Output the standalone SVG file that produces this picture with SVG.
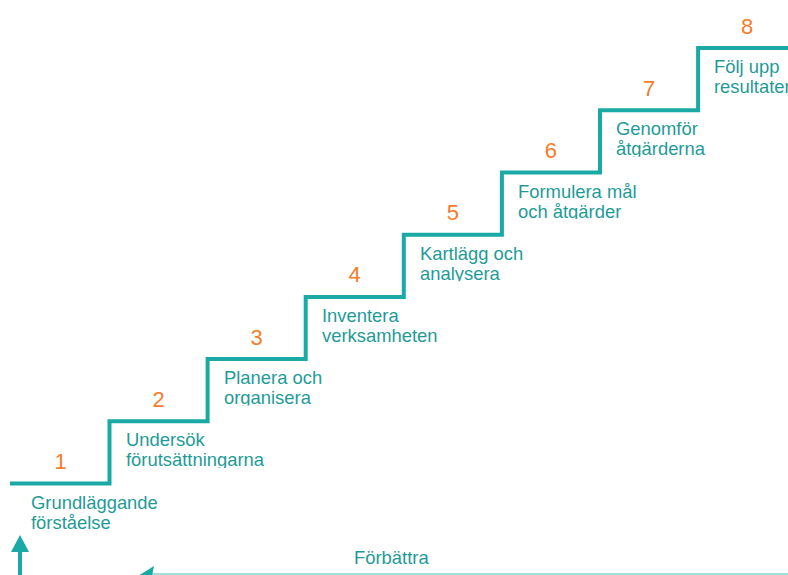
<svg xmlns="http://www.w3.org/2000/svg" width="788" height="575" viewBox="0 0 788 575">
<style>
.stair{fill:none;stroke:#19aaa6;stroke-width:4;stroke-linejoin:miter}
.num{font-family:"Liberation Sans",Arial,sans-serif;font-size:22px;fill:#f57c2c;text-anchor:middle}
.lbl{font-family:"Liberation Sans",Arial,sans-serif;font-size:18.4px;fill:#1f9b97}
</style>
<defs>
<clipPath id="c2"><rect x="100" y="380" width="200" height="88"/></clipPath>
<clipPath id="c3"><rect x="200" y="320" width="200" height="85.6"/></clipPath>
<clipPath id="c4"><rect x="300" y="260" width="200" height="83.4"/></clipPath>
<clipPath id="c5"><rect x="400" y="200" width="200" height="81.2"/></clipPath>
<clipPath id="c6"><rect x="500" y="140" width="200" height="79"/></clipPath>
<clipPath id="c7"><rect x="600" y="80" width="200" height="76.8"/></clipPath>
</defs>
<g id="connectors">
<path class="stair" d="M10 483.5 H109.5 V421.3 H207.6 V359.1 H305.7 V296.9 H403.8 V234.7 H501.9 V172.5 H600 V110.3 H698.1 V48.1 H790"/>
<line x1="20" y1="576" x2="20" y2="549" stroke="#19aaa6" stroke-width="4"/>
<polygon points="20,535 11,552 29,552" fill="#19aaa6"/>
<line x1="150" y1="574" x2="790" y2="574" stroke="#9edfdb" stroke-width="2"/>
<polygon points="138,576 154,566 152,576" fill="#19aaa6"/>
</g>
<g id="step1"><text class="num" x="60.5" y="469">1</text><text class="lbl" x="31" y="508.5">Grundläggande</text><text class="lbl" x="31" y="528.5">förståelse</text></g>
<g id="step2"><text class="num" x="158.5" y="406.8">2</text><g clip-path="url(#c2)"><text class="lbl" x="126" y="446.3">Undersök</text><text class="lbl" x="126" y="466.3">förutsättningarna</text></g></g>
<g id="step3"><text class="num" x="256.6" y="344.6">3</text><g clip-path="url(#c3)"><text class="lbl" x="224" y="384.1">Planera och</text><text class="lbl" x="224" y="404.1">organisera</text></g></g>
<g id="step4"><text class="num" x="354.7" y="282.4">4</text><g clip-path="url(#c4)"><text class="lbl" x="322" y="321.9">Inventera</text><text class="lbl" x="322" y="341.9">verksamheten</text></g></g>
<g id="step5"><text class="num" x="452.8" y="220.2">5</text><g clip-path="url(#c5)"><text class="lbl" x="420" y="259.7">Kartlägg och</text><text class="lbl" x="420" y="279.7">analysera</text></g></g>
<g id="step6"><text class="num" x="550.9" y="158">6</text><g clip-path="url(#c6)"><text class="lbl" x="518" y="197.5">Formulera mål</text><text class="lbl" x="518" y="217.5">och åtgärder</text></g></g>
<g id="step7"><text class="num" x="649" y="95.8">7</text><g clip-path="url(#c7)"><text class="lbl" x="616" y="135.3">Genomför</text><text class="lbl" x="616" y="155.3">åtgärderna</text></g></g>
<g id="step8"><text class="num" x="747.1" y="33.6">8</text><text class="lbl" x="714" y="73.1">Följ upp</text><text class="lbl" x="714" y="93.1">resultaten</text></g>
<g id="improve"><text class="lbl" x="354" y="564">Förbättra</text></g>
</svg>
